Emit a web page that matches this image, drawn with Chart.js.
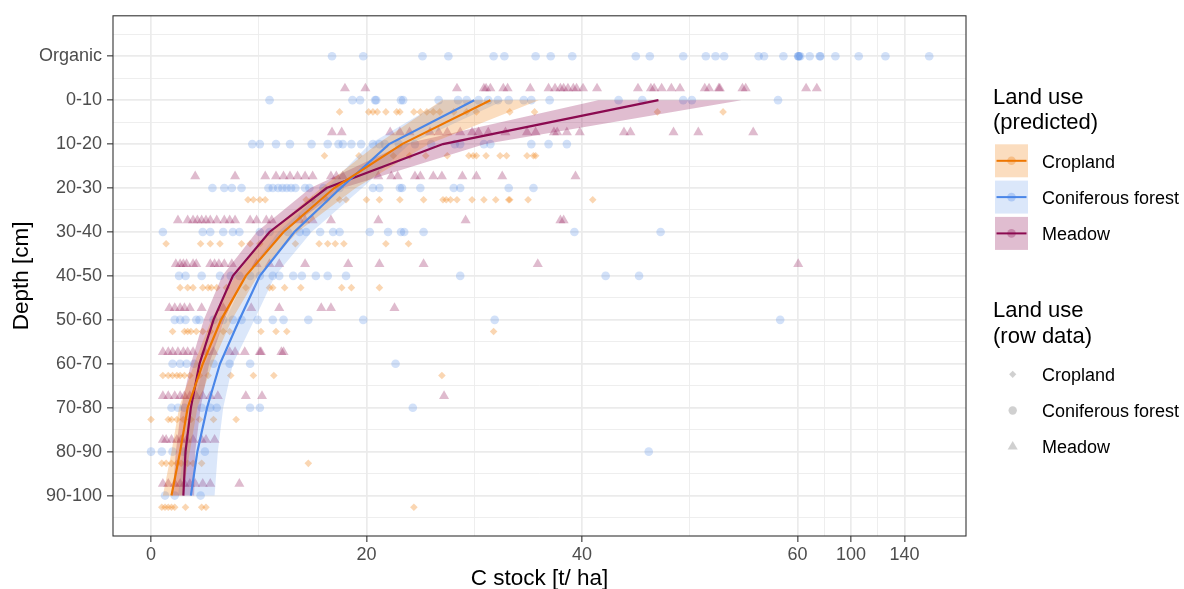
<!DOCTYPE html>
<html>
<head>
<meta charset="utf-8">
<title>C stock by depth</title>
<script src="https://cdn.jsdelivr.net/npm/chart.js"></script>
<style>
  body { margin: 0; background: #fff; }
  #wrap { position: relative; width: 1184px; height: 589px; overflow: hidden; background: #fff;
          font-family: "Liberation Sans", Arial, Helvetica, sans-serif; }
  #chart { position: absolute; left: 0; top: 0; }
  #keys { position: absolute; left: 0; top: 0; }
  .lg { position: absolute; color: #000; white-space: nowrap; }
  .lg-title { font-size: 22px; line-height: 25.5px; }
  .lg-label { font-size: 18px; line-height: 20px; }
</style>
</head>
<body>
<div id="wrap">
  <canvas id="chart" width="1184" height="589"></canvas>
  <svg id="keys" width="1184" height="589"></svg>
</div>
<script>
// depth classes, top to bottom
const DEPTHS = ['Organic', '0-10', '10-20', '20-30', '30-40', '40-50',
                '50-60', '60-70', '70-80', '80-90', '90-100'];
const LAND_USES = ['Cropland', 'Coniferous forest', 'Meadow'];
const X_MAJOR = [0, 20, 40, 60, 100, 140];
const X_MINOR = [10, 30, 50, 80, 120];

// raw observations [t/ha], one list per depth row (same order as DEPTHS)
const croplandRaw = [
  [],
  [17.5, 20.2, 20.6, 21.0, 21.8, 22.8, 23.1, 24.4, 25.0, 25.6, 26.2, 26.8, 28.1, 29.3, 30.2, 33.3, 35.6, 47.0, 53.1],
  [16.1, 19.3, 22.5, 24.0, 25.5, 27.5, 29.5, 29.9, 30.2, 31.1, 32.4, 33.0, 34.9, 35.5, 35.7],
  [9.0, 9.5, 10.1, 10.6, 14.4, 15.0, 16.3, 17.5, 18.1, 20.0, 21.2, 23.1, 25.3, 27.1, 27.4, 27.8, 28.4, 29.8, 30.9, 32.0, 33.2, 33.3, 35.0, 41.0],
  [1.4, 4.6, 5.5, 6.4, 8.4, 9.2, 10.1, 13.4, 15.6, 16.4, 17.1, 17.9, 21.8, 23.9],
  [2.7, 3.4, 3.9, 4.8, 5.3, 5.6, 6.1, 7.0, 8.8, 11.0, 11.3, 12.4, 13.9, 17.7, 18.6, 21.2],
  [2.0, 3.1, 3.4, 3.7, 4.2, 4.8, 5.5, 6.7, 7.3, 10.2, 11.6, 12.6, 31.8],
  [1.1, 1.6, 2.0, 2.4, 2.7, 3.1, 3.6, 4.5, 5.3, 7.4, 9.5, 11.4, 27.0],
  [0.0, 1.6, 1.9, 2.4, 3.0, 3.7, 4.5, 5.8, 7.9],
  [1.0, 1.4, 1.9, 2.4, 2.8, 3.4, 3.9, 4.7, 14.6],
  [1.0, 1.3, 1.6, 1.9, 2.2, 3.2, 4.7, 5.1, 24.4]
];
const forestRaw = [
  [16.8, 19.7, 25.2, 27.6, 31.8, 32.8, 35.7, 37.1, 39.1, 45.0, 46.3, 49.4, 51.5, 52.4, 53.2, 56.4, 56.9, 58.7, 60.5, 60.8, 61.2, 62.2, 69.2, 76.7, 77.2, 88.4, 105.8, 125.8, 158.5],
  [11.0, 18.7, 19.4, 20.8, 20.9, 23.2, 23.4, 26.7, 28.5, 29.3, 30.4, 31.3, 32.2, 33.2, 34.6, 35.3, 37.0, 43.4, 45.6, 49.4, 50.2, 58.2],
  [9.4, 10.1, 11.6, 12.9, 14.9, 16.4, 17.4, 17.8, 18.6, 19.5, 20.6, 21.2, 21.7, 23.0, 24.5, 26.0, 28.2, 28.7, 30.9, 31.5, 35.3, 36.9, 38.6],
  [5.7, 6.8, 7.5, 8.4, 10.9, 11.3, 11.8, 12.2, 12.6, 13.0, 13.4, 14.3, 14.7, 16.0, 17.5, 20.6, 21.2, 23.1, 23.3, 25.0, 28.1, 28.7, 33.2, 35.5],
  [1.1, 4.8, 5.5, 6.7, 7.6, 8.2, 10.1, 11.0, 12.7, 13.8, 14.4, 15.7, 16.9, 17.5, 20.3, 22.0, 23.2, 23.5, 25.3, 39.3, 47.3],
  [2.6, 3.2, 4.7, 6.4, 7.4, 8.2, 9.2, 10.1, 11.3, 11.9, 13.2, 14.0, 15.3, 16.4, 18.1, 28.7, 42.2, 45.3],
  [2.2, 2.7, 3.2, 4.2, 4.5, 5.8, 6.7, 7.6, 8.4, 9.9, 11.3, 12.3, 14.6, 19.7, 31.9, 58.4],
  [2.0, 2.7, 3.3, 4.0, 5.8, 7.3, 9.2, 22.7],
  [1.9, 2.5, 3.1, 4.7, 5.5, 6.1, 9.2, 10.1, 24.3],
  [0.0, 1.0, 2.0, 3.0, 5.0, 46.2],
  [1.3, 2.2, 4.6]
];
const meadowRaw = [
  [],
  [18.0, 19.9, 28.4, 30.9, 31.1, 31.5, 32.7, 33.1, 35.2, 36.9, 37.5, 38.0, 38.3, 38.7, 39.2, 39.5, 40.1, 41.4, 45.2, 46.4, 46.7, 47.4, 48.3, 49.1, 51.4, 51.8, 52.7, 52.8, 54.9, 55.2, 66.5, 74.5],
  [16.8, 17.7, 22.2, 23.1, 24.0, 25.9, 26.7, 27.5, 28.7, 29.8, 30.4, 31.3, 32.9, 34.9, 35.7, 37.4, 37.7, 38.6, 39.8, 43.9, 44.5, 48.5, 50.8, 55.9],
  [4.1, 7.8, 10.6, 11.6, 12.3, 12.9, 13.6, 14.3, 15.0, 16.7, 17.2, 17.8, 21.1, 22.3, 22.9, 24.5, 25.0, 26.2, 27.0, 28.9, 30.2, 32.6, 39.4],
  [2.5, 3.4, 3.9, 4.3, 4.7, 5.1, 5.5, 6.1, 6.8, 7.3, 7.8, 9.2, 9.8, 10.7, 11.2, 13.8, 14.3, 15.0, 16.7, 21.1, 29.2, 38.0, 38.3],
  [2.3, 2.7, 3.0, 3.3, 3.9, 4.2, 5.5, 5.9, 6.3, 6.8, 7.5, 9.8, 11.0, 11.9, 14.3, 18.3, 21.2, 25.3, 35.9, 60.6],
  [1.7, 2.2, 2.7, 3.1, 3.6, 4.7, 6.7, 9.3, 11.9, 15.8, 16.7, 22.6],
  [1.1, 1.6, 2.0, 2.5, 3.0, 3.4, 3.9, 5.0, 5.8, 7.3, 7.8, 8.7, 10.1, 10.2, 12.1, 12.3],
  [1.1, 1.6, 2.2, 2.7, 3.1, 3.6, 4.2, 4.8, 5.5, 6.2, 8.8, 10.3, 27.2],
  [1.1, 1.4, 1.9, 2.4, 2.8, 3.3, 3.9, 4.7, 5.1, 5.9],
  [1.1, 1.6, 2.2, 2.7, 3.1, 3.6, 4.1, 4.8, 5.5, 8.2]
];

// predicted C stock with confidence band, rows 0-10 ... 90-100
const croplandFit = [31.5, 23.3, 17.0, 12.3, 8.8, 6.5, 4.8, 3.4, 2.7, 1.9];
const croplandLo  = [27.0, 21.0, 15.8, 11.0, 7.8, 5.6, 4.0, 2.6, 1.9, 1.1];
const croplandHi  = [36.0, 25.8, 19.0, 13.6, 9.9, 7.5, 5.7, 4.3, 3.6, 2.9];
const forestFit   = [30.0, 22.1, 17.6, 13.3, 10.1, 8.2, 6.4, 5.2, 4.3, 3.7];
const forestLo    = [27.2, 20.3, 16.3, 11.8, 8.8, 6.9, 5.0, 3.8, 3.0, 2.5];
const forestHi    = [32.8, 24.0, 19.6, 14.9, 11.5, 9.6, 7.6, 6.7, 6.2, 5.9];
const meadowFit   = [47.1, 27.1, 16.3, 11.0, 7.6, 5.8, 4.5, 3.7, 3.2, 3.0];
const meadowLo    = [41.5, 23.5, 14.8, 9.8, 6.6, 4.9, 3.7, 2.8, 2.3, 2.0];
const meadowHi    = [54.8, 31.0, 17.8, 12.3, 8.7, 6.8, 5.4, 4.6, 4.1, 4.0];

// styling
const COLORS = ['#EE7600', '#4A86E8', '#8B0A50'];
const BAND_ALPHA = [0.25, 0.2, 0.27];
const POINT_ALPHA = [0.3, 0.25, 0.28];
const POINT_STYLE = ['rectRot', 'circle', 'triangle'];
const POINT_SIZE = [3.8, 4.3, 5.8];
const DODGE = [0.267, 0, -0.267];
const FONT = '"Liberation Sans", Arial, Helvetica, sans-serif';

// x axis: linear up to 60, squeezed above
const BREAK = 60;
const SQUISH = 0.1242;
const X_MIN = -3.53;
const X_MAX = 186;
const fwd = v => (v <= BREAK ? v : BREAK + (v - BREAK) * SQUISH);
const inv = t => (t <= BREAK ? t : BREAK + (t - BREAK) / SQUISH);

class BrokenScale extends Chart.LinearScale {
  static id = 'broken';
  determineDataLimits() {
    this.min = fwd(X_MIN);
    this.max = fwd(X_MAX);
  }
  getPixelForValue(value) {
    return value === null || value === undefined ? NaN : super.getPixelForValue(fwd(value));
  }
  getValueForPixel(pixel) {
    return inv(super.getValueForPixel(pixel));
  }
}
Chart.register(BrokenScale);

function rgba(hex, a) {
  const n = parseInt(hex.slice(1), 16);
  return `rgba(${(n >> 16) & 255},${(n >> 8) & 255},${n & 255},${a})`;
}

function rawPoints(rows, shift) {
  const pts = [];
  rows.forEach((vals, i) => vals.forEach(v => pts.push({ x: v, y: i + shift })));
  return pts;
}

function fitPoints(vals) {
  return vals.map((v, i) => ({ x: v, y: i + 1 }));
}

function bandShape(lo, hi) {
  return [...fitPoints(lo), ...fitPoints(hi).reverse()];
}

const raws = [croplandRaw, forestRaw, meadowRaw];
const fits = [croplandFit, forestFit, meadowFit];
const los = [croplandLo, forestLo, meadowLo];
const his = [croplandHi, forestHi, meadowHi];

const datasets = [];
LAND_USES.forEach((name, k) => {
  datasets.push({
    label: name + ' (row data)',
    data: rawPoints(raws[k], DODGE[k]),
    showLine: false,
    pointStyle: POINT_STYLE[k],
    pointRadius: POINT_SIZE[k],
    pointBorderWidth: 0,
    pointBackgroundColor: rgba(COLORS[k], POINT_ALPHA[k]),
    pointBorderColor: 'rgba(0,0,0,0)',
    order: 3
  });
});
LAND_USES.forEach((name, k) => {
  datasets.push({
    label: name + ' band',
    data: bandShape(los[k], his[k]),
    fill: 'shape',
    backgroundColor: rgba(COLORS[k], BAND_ALPHA[k]),
    borderWidth: 0,
    borderColor: 'rgba(0,0,0,0)',
    pointRadius: 0,
    tension: 0,
    order: 2
  });
});
LAND_USES.forEach((name, k) => {
  datasets.push({
    label: name,
    data: fitPoints(fits[k]),
    borderColor: COLORS[k],
    borderWidth: 2.2,
    pointRadius: 0,
    tension: 0,
    fill: false,
    order: 1
  });
});

const isMajorX = v => X_MAJOR.includes(v);
const isMajorY = v => Number.isInteger(v);

const panelBorder = {
  id: 'panelBorder',
  afterDraw(chart) {
    const { ctx, chartArea: a } = chart;
    ctx.save();
    ctx.strokeStyle = '#333333';
    ctx.lineWidth = 1.1;
    ctx.strokeRect(a.left, a.top, a.right - a.left, a.bottom - a.top);
    ctx.restore();
  }
};

Chart.defaults.font.family = FONT;

new Chart(document.getElementById('chart'), {
  type: 'line',
  data: { datasets },
  options: {
    responsive: false,
    animation: false,
    events: [],
    devicePixelRatio: 1,
    layout: { padding: { left: 0, right: 218, top: 14, bottom: 0 } },
    plugins: {
      legend: { display: false },
      tooltip: { enabled: false }
    },
    scales: {
      x: {
        type: 'broken',
        bounds: 'data',
        afterFit: s => { s.height = 53; },
        afterBuildTicks: s => {
          s.ticks = [...X_MAJOR, ...X_MINOR].sort((a, b) => a - b).map(v => ({ value: v }));
        },
        ticks: {
          autoSkip: false,
          maxRotation: 0,
          padding: 2,
          color: '#4D4D4D',
          font: { size: 18 },
          callback: v => (isMajorX(v) ? String(v) : '')
        },
        grid: {
          color: '#EBEBEB',
          lineWidth: c => (isMajorX(c.tick.value) ? 1.7 : 0.85),
          tickLength: 6,
          tickColor: c => (isMajorX(c.tick.value) ? '#333333' : 'rgba(0,0,0,0)'),
          tickWidth: 1.1
        },
        border: { display: false },
        title: {
          display: true,
          text: 'C stock [t/ ha]',
          color: '#000',
          font: { size: 22.5 },
          padding: { top: 0, bottom: -3 }
        }
      },
      y: {
        type: 'linear',
        reverse: true,
        min: -0.92,
        max: 10.92,
        afterFit: s => { s.width = 113; },
        afterBuildTicks: s => {
          const t = [];
          for (let v = -0.5; v <= 10.5; v += 0.5) t.push({ value: v });
          s.ticks = t;
        },
        ticks: {
          autoSkip: false,
          padding: 5,
          color: '#4D4D4D',
          font: { size: 18 },
          callback: v => (isMajorY(v) ? DEPTHS[v] : '')
        },
        grid: {
          color: '#EBEBEB',
          lineWidth: c => (isMajorY(c.tick.value) ? 1.7 : 0.85),
          tickLength: 6,
          tickColor: c => (isMajorY(c.tick.value) ? '#333333' : 'rgba(0,0,0,0)'),
          tickWidth: 1.1
        },
        border: { display: false },
        title: {
          display: true,
          text: 'Depth [cm]',
          color: '#000',
          font: { size: 22.5 },
          padding: { top: 8, bottom: 0 }
        }
      }
    }
  },
  plugins: [panelBorder]
});

// legends (two guides on the right)
const wrap = document.getElementById('wrap');
const svg = document.getElementById('keys');
const NS = 'http://www.w3.org/2000/svg';

function addText(cls, text, left, top) {
  const d = document.createElement('div');
  d.className = 'lg ' + cls;
  d.innerHTML = text;
  d.style.left = left + 'px';
  d.style.top = top + 'px';
  wrap.appendChild(d);
}
function addShape(tag, attrs) {
  const el = document.createElementNS(NS, tag);
  Object.entries(attrs).forEach(([k, v]) => el.setAttribute(k, v));
  svg.appendChild(el);
}

addText('lg-title', 'Land use<br>(predicted)', 993, 83.6);
LAND_USES.forEach((name, k) => {
  const top = 144.3 + k * 36.3;
  const cy = top + 16.5;
  addShape('rect', { x: 995, y: top, width: 33, height: 33, fill: rgba(COLORS[k], BAND_ALPHA[k]) });
  addShape('line', { x1: 996.5, x2: 1026.5, y1: cy, y2: cy, stroke: COLORS[k], 'stroke-width': 2 });
  addShape('circle', { cx: 1011.5, cy: cy, r: 4.3, fill: rgba(COLORS[k], 0.3) });
  addText('lg-label', name, 1042, cy - 9);
});

addText('lg-title', 'Land use<br>(row data)', 993, 297);
const GREY = 'rgba(150,150,150,0.45)';
LAND_USES.forEach((name, k) => {
  const cy = 374.3 + k * 36.2;
  const cx = 1012.7;
  if (k === 0) {
    const r = 3.6;
    addShape('polygon', { points: `${cx - r},${cy} ${cx},${cy - r} ${cx + r},${cy} ${cx},${cy + r}`, fill: GREY });
  } else if (k === 1) {
    addShape('circle', { cx, cy, r: 4.2, fill: GREY });
  } else {
    const r = 5.8;
    const h = r * Math.sqrt(3) / 2;
    addShape('polygon', { points: `${cx},${cy - r} ${cx + h},${cy + r / 2} ${cx - h},${cy + r / 2}`, fill: GREY });
  }
  addText('lg-label', name, 1042, cy - 9.5);
});
</script>
</body>
</html>
